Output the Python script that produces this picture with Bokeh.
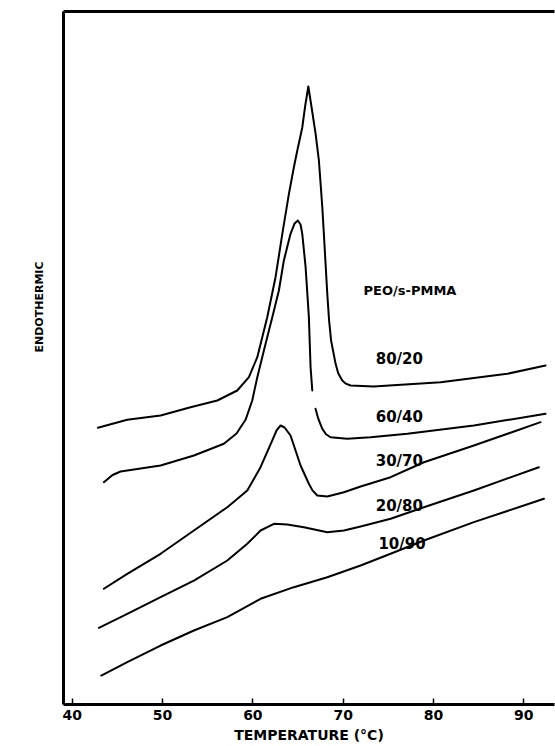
import math
from bokeh.plotting import figure
from bokeh.models import FixedTicker, LinearAxis, Title, Range1d, ColumnDataSource
from bokeh.core.properties import value
from bokeh.embed import file_html
from bokeh.resources import INLINE

nan = float("nan")

# Temperatures (deg C) and endothermic heat flow (arbitrary units)
t_80_20 = [42.84, 46.09, 49.78, 53.10, 56.06, 58.27, 59.56, 60.49, 61.59, 62.51, 63.26,
           63.99, 64.54, 64.92, 65.47, 65.80, 66.14, 66.47, 66.94, 67.31, 67.50, 67.69,
           67.86, 68.24, 68.44, 68.66, 69.16, 69.45, 69.90, 70.30, 70.82, 73.37, 80.79,
           88.17, 92.41]
y_80_20 = [39.93, 41.08, 41.70, 42.90, 43.87, 45.31, 47.23, 50.12, 55.89, 61.66, 67.92,
           73.69, 77.53, 79.94, 83.26, 86.44, 89.18, 86.44, 82.40, 78.50, 75.14, 71.72,
           67.92, 59.26, 55.41, 52.53, 49.16, 47.80, 46.75, 46.30, 46.03, 45.89, 46.51,
           47.72, 48.92]

t_60_40 = [43.50, 44.46, 45.35, 49.78, 53.47, 56.79, 58.19, 59.19, 59.93, 60.49, 61.22,
           62.15, 62.88, 63.43, 64.17, 64.62, 64.98, 65.28, 65.47, 65.84, 66.20, 66.39,
           66.58, nan, 66.94, 67.25, 67.69, 68.10, 68.60, 70.45, 73.03, 77.10, 84.47, 92.41]
y_60_40 = [32.08, 33.12, 33.62, 34.49, 35.93, 37.62, 39.11, 41.08, 43.87, 47.23, 51.08,
           55.89, 59.74, 64.07, 67.92, 69.41, 69.84, 69.26, 67.92, 63.10, 55.89, 48.67,
           45.31, nan, 42.67, 41.20, 39.78, 39.00, 38.57, 38.34, 38.57, 39.06, 40.26, 41.95]

t_30_70 = [43.50, 46.09, 49.78, 53.47, 57.17, 59.38, 60.85, 62.15, 62.62, 63.07, 63.51,
           64.17, 65.28, 66.20, 66.60, 67.13, 68.24, 70.08, 71.93, 75.25, 78.94, 84.47, 91.86]
y_30_70 = [16.70, 18.86, 21.75, 25.11, 28.47, 30.88, 34.24, 38.10, 39.54, 40.26, 39.97,
           38.82, 34.49, 31.85, 30.90, 30.16, 30.01, 30.63, 31.46, 32.80, 34.96, 37.37, 40.74]

t_20_80 = [42.95, 46.09, 49.78, 53.47, 57.17, 59.38, 60.85, 62.33, 63.81, 65.65, 68.24,
           70.08, 71.93, 75.25, 78.94, 84.47, 91.67]
y_20_80 = [11.07, 13.09, 15.48, 17.89, 20.78, 23.19, 25.11, 26.07, 25.97, 25.58, 24.86,
           25.11, 25.69, 26.80, 28.47, 30.88, 34.24]

t_10_90 = [43.21, 46.09, 49.78, 53.47, 57.17, 60.85, 64.54, 68.24, 71.93, 75.25, 78.94,
           84.47, 92.23]
y_10_90 = [4.18, 6.10, 8.51, 10.68, 12.60, 15.25, 16.93, 18.37, 20.06, 21.75, 23.67,
           26.31, 29.68]

series_t = [t_80_20, t_60_40, t_30_70, t_20_80, t_10_90]
series_y = [y_80_20, y_60_40, y_30_70, y_20_80, y_10_90]

curve_labels = ["80/20", "60/40", "30/70", "20/80", "10/90"]
label_x = [73.6, 73.6, 73.6, 73.6, 73.9]
label_y = [49.9, 41.5, 35.2, 28.7, 23.2]

legend_title = "PEO/s-PMMA"
x_ticks = [40, 50, 60, 70, 80, 90]
x_title = "TEMPERATURE (°C)"
y_title = "ENDOTHERMIC"

FONT = "DejaVu Sans"

p = figure(width=555, height=746, x_range=Range1d(39.03, 93.4), y_range=Range1d(0, 100),
           output_backend="svg", toolbar_location=None,
           min_border_left=63, min_border_right=1, min_border_top=11, min_border_bottom=42)
p.grid.visible = False
p.outline_line_color = None
p.background_fill_color = "white"
p.border_fill_color = "white"

for t, y in zip(series_t, series_y):
    p.line(t, y, line_width=2, line_color="black", line_join="round", line_cap="round")

src = ColumnDataSource(dict(x=label_x, y=label_y, text=curve_labels))
p.text(x="x", y="y", text="text", source=src, text_font=value(FONT), text_font_style="bold",
       text_font_size="15px", text_align="left", text_baseline="middle", text_color="black")
p.text(x=[72.26], y=[59.74], text=[legend_title], text_font=value(FONT), text_font_style="bold",
       text_font_size="13px", text_align="left", text_baseline="middle", text_color="black")

xa = p.xaxis[0]
xa.ticker = FixedTicker(ticks=x_ticks)
xa.axis_line_width = 3
xa.axis_line_color = "black"
xa.major_tick_in = 6
xa.major_tick_out = 0
xa.major_tick_line_width = 1.5
xa.major_tick_line_color = "black"
xa.minor_tick_line_color = None
xa.major_label_text_font = FONT
xa.major_label_text_font_style = "bold"
xa.major_label_text_font_size = "14px"
xa.major_label_text_color = "black"
xa.major_label_standoff = 5
xa.axis_label = x_title
xa.axis_label_text_font = FONT
xa.axis_label_text_font_style = "bold"
xa.axis_label_text_font_size = "14px"
xa.axis_label_text_color = "black"
xa.axis_label_standoff = 4

ya = p.yaxis[0]
ya.ticker = FixedTicker(ticks=[])
ya.axis_line_width = 3
ya.axis_line_color = "black"
ya.major_tick_line_color = None
ya.minor_tick_line_color = None

top = LinearAxis(ticker=FixedTicker(ticks=[]), axis_line_width=3, axis_line_color="black",
                 major_tick_line_color=None, minor_tick_line_color=None)
p.add_layout(top, "above")

p.add_layout(Title(text=y_title, align="right", offset=250, standoff=36,
                   text_font=FONT, text_font_style="bold", text_font_size="11px",
                   text_color="black"), "left")

open("out.html", "w").write(file_html(p, INLINE, "DSC"))
